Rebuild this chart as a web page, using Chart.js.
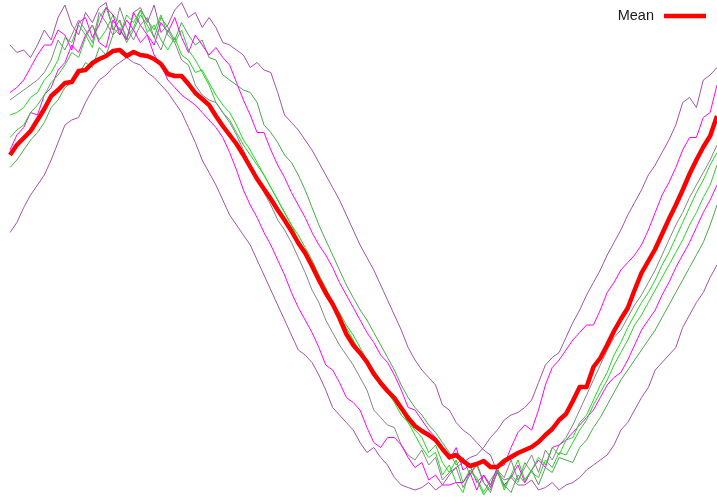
<!DOCTYPE html>
<html>
<head>
<meta charset="utf-8">
<script src="https://cdn.jsdelivr.net/npm/chart.js@4"></script>
<style>
  html, body { margin: 0; padding: 0; background: #fff; }
  canvas { display: block; }
</style>
</head>
<body>
<canvas id="chart" width="717" height="501"></canvas>
<script>
// sample index along x (104 samples)
const steps = [...Array(104).keys()];

// individual runs, values
const purpleA = [7,11,17,22,26,30,36,43,50,52,
  53,59,64,68,70,73,75,77,75,74,
  71,69,66,63,59,55,49,43,36,31,
  26,20,14,10,6,2,-4,-10,-16,-22,
  -28,-34,-40,-42,-45,-50,-56,-63,-66,-69,
  -72,-77,-81,-79,-83,-86,-91,-94,-95,-96,
  -95,-93,-96,-94,-90,-87,-85,-83,-82,-79,
  -75,-72,-68,-66,-65,-63,-60,-53,-46,-43,
  -41,-35,-29,-24,-18,-13,-8,-2,3,8,
  14,19,24,30,34,39,44,50,59,61,
  57,68,70,73];
const purpleB = [82,79,80,77,82,88,84,93,98,90,
  86,95,91,97,99,88,92,84,95,97,
  91,98,87,90,96,99,93,95,89,93,
  89,83,82,80,78,73,75,72,71,63,
  54,51,48,44,40,35,30,25,20,14,
  8,2,-3,-8,-14,-20,-26,-32,-39,-44,
  -48,-51,-54,-62,-64,-69,-72,-74,-77,-80,
  -82,-89,-92,-91,-94,-94,-92,-96,-95,-93,
  -96,-94,-93,-91,-88,-86,-84,-82,-78,-72,
  -69,-64,-59,-55,-48,-45,-42,-39,-31,-26,
  -21,-17,-11,-6];
const magentaA = [63,65,68,73,78,82,82,88,86,80,
  91,93,85,90,97,94,86,92,88,83,
  86,78,74,68,65,62,60,58,55,52,
  49,45,39,32,24,18,13,7,2,-4,
  -10,-17,-23,-28,-33,-39,-46,-48,-53,-59,
  -61,-64,-71,-77,-79,-75,-75,-78,-83,-87,
  -85,-92,-90,-94,-94,-93,-93,-89,-96,-90,
  -94,-87,-86,-79,-73,-70,-72,-64,-54,-47,
  -44,-40,-36,-33,-30,-30,-24,-17,-13,-8,
  -5,-2,2,8,15,22,27,33,40,45,
  45,53,55,66];
const magentaB = [40,46,49,55,54,62,65,72,75,82,
  79,86,90,83,81,92,88,84,95,90,
  86,82,91,87,93,85,79,86,82,78,
  81,77,74,67,60,54,47,47,40,34,
  29,23,18,13,7,2,-2,-7,-13,-18,
  -23,-28,-33,-37,-42,-45,-50,-56,-63,-64,
  -68,-72,-75,-80,-84,-79,-88,-86,-93,-90,
  -95,-89,-94,-91,-86,-93,-88,-84,-87,-79,
  -78,-76,-73,-70,-67,-64,-59,-54,-51,-49,
  -44,-38,-32,-28,-24,-18,-13,-7,-2,3,
  9,15,20,26];
const grayRun = [60,62,64,66,68,71,76,84,80,86,
  92,88,83,95,91,86,97,89,84,90,
  93,85,80,88,83,76,74,66,62,60,
  59,55,51,46,40,34,29,23,18,12,
  8,3,-3,-9,-16,-21,-28,-33,-38,-42,
  -46,-51,-56,-64,-67,-70,-71,-78,-82,-84,
  -80,-86,-83,-92,-89,-87,-95,-90,-85,-93,
  -97,-88,-91,-84,-92,-87,-82,-89,-80,-84,
  -78,-75,-70,-64,-58,-52,-46,-40,-35,-32,
  -27,-22,-18,-13,-8,-2,4,10,15,21,
  26,31,36,42];
const greenA = [54,55,57,61,63,68,71,76,85,83,
  90,86,81,93,97,89,86,94,91,96,
  87,90,84,80,85,78,76,71,72,67,
  62,58,55,50,44,40,35,30,25,20,
  15,10,4,0,-6,-12,-18,-22,-27,-31,
  -36,-41,-44,-50,-54,-57,-61,-66,-69,-74,
  -79,-83,-81,-90,-86,-93,-97,-88,-92,-98,
  -94,-87,-95,-90,-84,-92,-88,-83,-86,-79,
  -82,-76,-75,-69,-66,-60,-54,-49,-42,-37,
  -31,-26,-21,-17,-12,-6,-1,5,11,17,
  23,28,34,39];
const greenB = [45,48,50,55,58,62,67,70,74,79,
  77,85,90,84,88,94,91,85,89,96,
  92,88,94,86,83,88,80,76,71,66,
  59,55,52,47,42,38,34,30,25,20,
  15,10,6,1,-4,-10,-15,-21,-25,-30,
  -34,-39,-44,-48,-52,-57,-60,-64,-69,-72,
  -75,-81,-78,-85,-89,-84,-93,-88,-91,-97,
  -92,-88,-96,-90,-93,-85,-89,-91,-84,-87,
  -81,-82,-77,-72,-68,-62,-57,-52,-46,-41,
  -36,-30,-26,-21,-16,-11,-6,-1,4,10,
  15,21,26,34];
const greenC = [33,36,40,44,47,51,57,60,65,67,
  70,75,73,81,78,86,89,83,88,94,
  90,85,93,89,84,91,86,82,84,77,
  76,70,68,66,64,63,59,50,47,43,
  38,35,30,24,17,10,4,-2,-8,-14,
  -19,-24,-28,-33,-38,-43,-48,-54,-59,-63,
  -66,-70,-73,-77,-81,-86,-83,-90,-86,-93,
  -96,-89,-94,-97,-90,-93,-88,-94,-87,-89,
  -83,-84,-85,-79,-76,-71,-67,-62,-57,-52,
  -48,-44,-40,-36,-32,-27,-22,-17,-12,-7,
  -2,3,10,18];

// mean curve (red)
const meanRun = [38,42,44.8,47.6,52,56.4,61.6,64,66.8,67.2,
  71.6,72,74.8,76.4,77.6,79.6,80,77.6,79.2,78,
  77.6,76.4,74.4,70.4,69.6,69.6,66.4,62.8,60.4,58,
  53.6,49.6,46,42.4,38,33.2,28.4,24.4,20.4,16,
  12,7.6,2.8,-1.2,-6.4,-12,-17.2,-21.6,-27.2,-33.6,
  -38,-41.2,-44.8,-49.6,-53.2,-56.4,-59.2,-63.2,-67.2,-70.4,
  -72.4,-74,-76,-79.6,-82.8,-82,-84.4,-86.4,-85.6,-84.4,
  -86.8,-86.8,-84.4,-82.8,-81.2,-80,-78.8,-76.8,-74,-71.6,
  -68,-65.6,-60.4,-54.8,-54.8,-46.8,-43.2,-38,-32.4,-27.6,
  -23.2,-16,-9.2,-4.4,0.4,6.4,12.4,18,24,30.4,
  36,41.2,45.6,53.6];

const runs = [
  { data: purpleA, color: '#a452a8' },
  { data: magentaA, color: '#ff00ff' },
  { data: grayRun, color: '#858585' },
  { data: greenA, color: '#22d822' },
  { data: greenB, color: '#30cc30' },
  { data: magentaB, color: '#ff00ff' },
  { data: greenC, color: '#4aa84a' },
  { data: purpleB, color: '#a452a8' }
];

// gnuplot-like key: text then line sample, top right
const keyPlugin = {
  id: 'meanKey',
  afterDraw(chart) {
    const ctx = chart.ctx;
    ctx.save();
    ctx.font = '14.5px "Liberation Sans", Arial, sans-serif';
    ctx.fillStyle = '#1a1a1a';
    ctx.textAlign = 'right';
    ctx.textBaseline = 'middle';
    ctx.fillText('Mean', 654, 16);
    ctx.strokeStyle = '#ff0000';
    ctx.lineWidth = 4.5;
    ctx.beginPath();
    ctx.moveTo(664, 16);
    ctx.lineTo(706, 16);
    ctx.stroke();
    ctx.restore();
  }
};

let datasets = [{
  label: 'Mean',
  data: meanRun,
  borderColor: '#ff0000',
  borderWidth: 4.5,
  pointRadius: 0,
  tension: 0,
  borderJoinStyle: 'round'
}];
for (let i = 0; i < runs.length; i++) {
  datasets.push({
    label: 'run ' + (i + 1),
    data: runs[i].data,
    borderColor: runs[i].color,
    borderWidth: 1,
    pointRadius: 0,
    tension: 0
  });
}

new Chart(document.getElementById('chart'), {
  type: 'line',
  data: { labels: steps, datasets: datasets },
  options: {
    responsive: false,
    animation: false,
    devicePixelRatio: 1,
    layout: { padding: { left: 10, right: 0, top: 0, bottom: 0 } },
    plugins: {
      legend: { display: false },
      tooltip: { enabled: false }
    },
    scales: {
      x: { display: false, offset: false },
      y: { display: false, min: -100.4, max: 100 }
    }
  },
  plugins: [keyPlugin]
});
</script>
</body>
</html>
